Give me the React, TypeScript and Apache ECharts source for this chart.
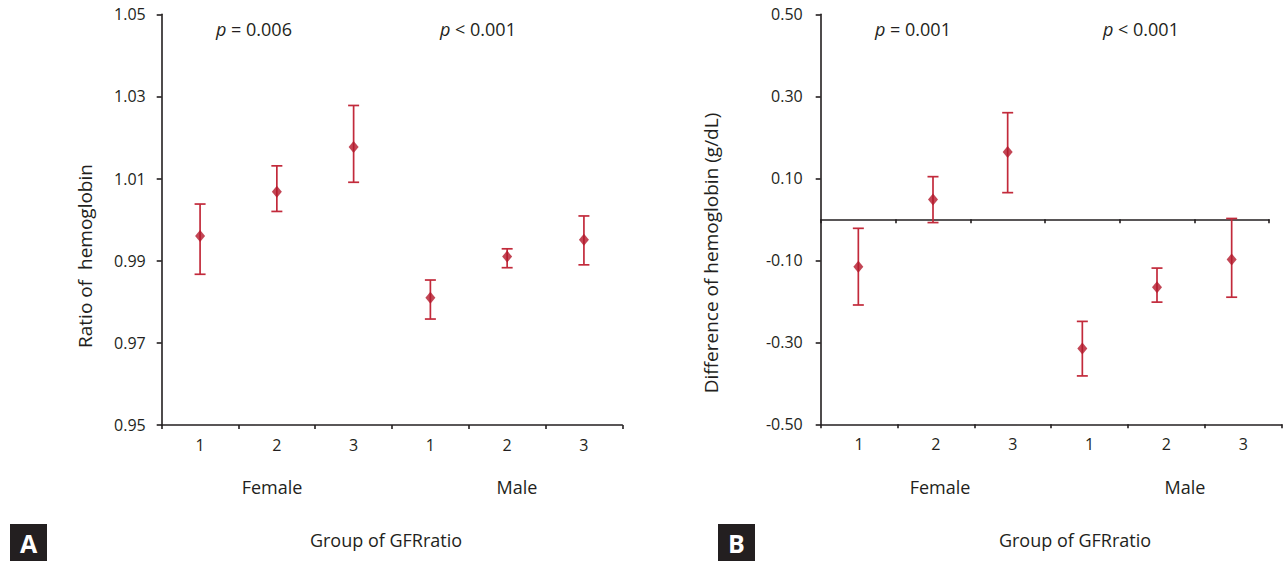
import React, { useEffect, useRef } from "react";
import * as echarts from "echarts";

// ---- data ----
const groupLabels = ["1", "2", "3", "1", "2", "3"];
const sexLabels = ["Female", "Male"];
const xTitle = "Group of GFRratio";

const ratioMean = [0.996, 1.0068, 1.0177, 0.981, 0.991, 0.9951];
const ratioLow = [0.9867, 1.002, 1.0091, 0.9758, 0.9883, 0.989];
const ratioHigh = [1.0038, 1.0131, 1.0278, 0.9853, 0.9929, 1.0009];
const ratioTicks = { min: 0.95, max: 1.05, step: 0.02 };
const ratioPValues = ["= 0.006", "< 0.001"];

const diffMean = [-0.116, 0.048, 0.164, -0.315, -0.166, -0.098];
const diffLow = [-0.209, -0.008, 0.065, -0.382, -0.202, -0.19];
const diffHigh = [-0.022, 0.104, 0.26, -0.249, -0.119, 0.002];
const diffTicks = { min: -0.5, max: 0.5, step: 0.2 };
const diffPValues = ["= 0.001", "< 0.001"];

const FONT = "'Open Sans', 'Noto Sans', sans-serif";
const INK = "#231f20";
const RED = "#b3182b";
const BAR = "#c22a3b";

function errorItem(params: any, api: any) {
  const x = api.value(0);
  const lo = api.coord([x, api.value(1)]);
  const hi = api.coord([x, api.value(2)]);
  const half = 5.5;
  const style = { stroke: BAR, lineWidth: 1.7 };
  return {
    type: "group",
    children: [
      { type: "line", shape: { x1: hi[0], y1: hi[1], x2: lo[0], y2: lo[1] }, style },
      { type: "line", shape: { x1: hi[0] - half, y1: hi[1], x2: hi[0] + half, y2: hi[1] }, style },
      { type: "line", shape: { x1: lo[0] - half, y1: lo[1], x2: lo[0] + half, y2: lo[1] }, style },
    ],
  };
}

const axisLineStyle = { color: INK, width: 1.6 };
const labelStyle = { color: INK, fontSize: 16, fontFamily: FONT };

function pText(x: number, y: number, rest: string) {
  return {
    type: "text",
    x,
    y,
    style: {
      text: "{p|p} " + rest,
      fill: INK,
      fontSize: 18,
      fontFamily: FONT,
      verticalAlign: "middle",
      rich: { p: { fontStyle: "italic", fontSize: 18, fontFamily: FONT, fill: INK } },
    },
  };
}

function centerText(x: number, y: number, text: string, size = 18, rotate = 0) {
  return {
    type: "text",
    x,
    y,
    rotation: rotate,
    style: { text, fill: INK, fontSize: size, fontFamily: FONT, align: "center", verticalAlign: "middle" },
  };
}

function panelBox(x: number, letter: string) {
  return [
    { type: "rect", shape: { x, y: 524, width: 37, height: 37 }, style: { fill: INK } },
    {
      type: "text",
      x: x + 18.5,
      y: 543,
      style: { text: letter, fill: "#fff", fontSize: 25, fontWeight: "bold", fontFamily: FONT, align: "center", verticalAlign: "middle" },
    },
  ];
}

export default function App() {
  const ref = useRef<HTMLDivElement>(null);
  useEffect(() => {
    if (!ref.current) return;
    const chart = echarts.init(ref.current, undefined, { renderer: "svg" });
    const fmt = (v: number) => v.toFixed(2);
    const option: any = {
      animation: false,
      backgroundColor: "#fff",
      grid: [
        { left: 161.7, top: 14.3, width: 460.6, height: 410.7 },
        { left: 821, top: 14.3, width: 448, height: 410 },
        { left: 820.7, top: 14.3, width: 461, height: 410 },
      ],
      xAxis: [
        {
          type: "category",
          gridIndex: 0,
          data: groupLabels,
          axisLine: { lineStyle: axisLineStyle },
          axisTick: { show: true, length: 4, lineStyle: axisLineStyle },
          axisLabel: { ...labelStyle, margin: 12 },
          splitLine: { show: false },
        },
        {
          type: "category",
          gridIndex: 1,
          data: groupLabels,
          axisLine: { onZero: true, lineStyle: axisLineStyle },
          axisTick: { show: true, length: 4, lineStyle: axisLineStyle },
          axisLabel: { show: false },
          splitLine: { show: false },
        },
        {
          type: "category",
          gridIndex: 2,
          data: groupLabels,
          axisLine: { onZero: false, lineStyle: axisLineStyle },
          axisTick: { show: true, length: 4, lineStyle: axisLineStyle },
          axisLabel: { ...labelStyle, margin: 12 },
          splitLine: { show: false },
        },
      ],
      yAxis: [
        {
          type: "value",
          gridIndex: 0,
          min: ratioTicks.min,
          max: ratioTicks.max,
          interval: ratioTicks.step,
          axisLine: { show: true, lineStyle: axisLineStyle },
          axisTick: { show: true, length: 5, lineStyle: axisLineStyle },
          axisLabel: { ...labelStyle, margin: 16, formatter: fmt },
          splitLine: { show: false },
        },
        {
          type: "value",
          gridIndex: 1,
          min: diffTicks.min,
          max: diffTicks.max,
          interval: diffTicks.step,
          axisLine: { show: false },
          axisTick: { show: false },
          axisLabel: { show: false },
          splitLine: { show: false },
        },
        {
          type: "value",
          gridIndex: 2,
          min: diffTicks.min,
          max: diffTicks.max,
          interval: diffTicks.step,
          axisLine: { show: true, lineStyle: axisLineStyle },
          axisTick: { show: true, length: 5, lineStyle: axisLineStyle },
          axisLabel: { ...labelStyle, margin: 18, formatter: fmt },
          splitLine: { show: false },
        },
      ],
      series: [
        {
          type: "custom",
          xAxisIndex: 0,
          yAxisIndex: 0,
          renderItem: errorItem,
          encode: { x: 0, y: [1, 2] },
          data: ratioLow.map((lo, i) => [i, lo, ratioHigh[i]]),
          z: 2,
        },
        {
          type: "scatter",
          xAxisIndex: 0,
          yAxisIndex: 0,
          symbol: "diamond",
          symbolSize: [10, 12],
          itemStyle: { color: RED },
          data: ratioMean,
          z: 3,
        },
        {
          type: "custom",
          xAxisIndex: 1,
          yAxisIndex: 1,
          renderItem: errorItem,
          encode: { x: 0, y: [1, 2] },
          data: diffLow.map((lo, i) => [i, lo, diffHigh[i]]),
          z: 2,
        },
        {
          type: "scatter",
          xAxisIndex: 1,
          yAxisIndex: 1,
          symbol: "diamond",
          symbolSize: [10, 12],
          itemStyle: { color: RED },
          data: diffMean,
          z: 3,
        },
      ],
      graphic: [
        pText(216, 29, ratioPValues[0]),
        pText(440, 29, ratioPValues[1]),
        pText(875, 29, diffPValues[0]),
        pText(1103, 29, diffPValues[1]),
        centerText(85, 256, "Ratio of  hemoglobin", 19, Math.PI / 2),
        centerText(711, 253, "Difference of hemoglobin (g/dL)", 19, Math.PI / 2),
        centerText(272, 487, sexLabels[0]),
        centerText(517, 487, sexLabels[1]),
        centerText(940, 487, sexLabels[0]),
        centerText(1185, 487, sexLabels[1]),
        centerText(386, 540, xTitle),
        centerText(1075, 540, xTitle),
        ...panelBox(10, "A"),
        ...panelBox(718, "B"),
      ],
    };
    chart.setOption(option);
    return () => chart.dispose();
  }, []);
  return (
    <div
      ref={ref}
      style={{ position: "fixed", left: 0, top: 0, width: 1283, height: 561, background: "#fff" }}
    />
  );
}
